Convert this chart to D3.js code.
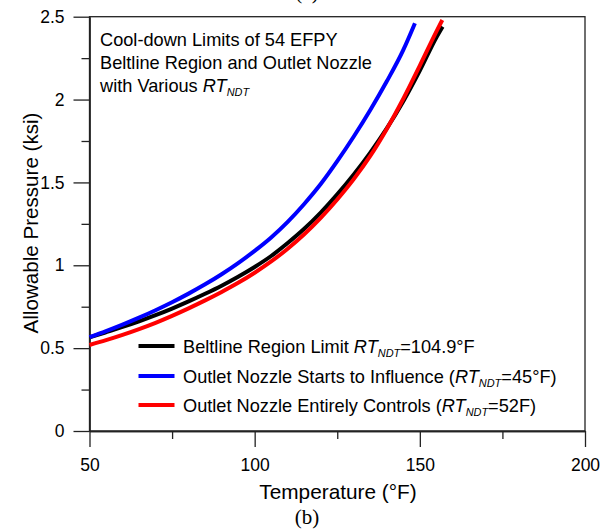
<!DOCTYPE html>
<html>
<head>
<meta charset="utf-8">
<script src="https://cdn.jsdelivr.net/npm/d3@7"></script>
<style>
  body { margin: 0; background: #fff; }
  svg { display: block; }
  text { font-family: "Liberation Sans", Arial, sans-serif; fill: #000; }
  .serif { font-family: "Liberation Serif", "Times New Roman", serif; }
</style>
</head>
<body>
<svg id="chart" width="613" height="529"></svg>
<script>
// Cool-down pressure-temperature limits (ksi vs °F)
const beltlineT = [50, 55, 60, 65, 70, 75, 80, 85, 90, 95, 100, 105, 110, 115, 120, 125, 130, 135, 140, 145, 150, 155, 156.9];
const beltlineP = [0.565, 0.596, 0.628, 0.662, 0.699, 0.739, 0.782, 0.828, 0.877, 0.931, 0.990, 1.056, 1.134, 1.220, 1.318, 1.428, 1.548, 1.680, 1.826, 1.990, 2.175, 2.375, 2.440];

const nozzleStartT = [50, 55, 60, 65, 70, 75, 80, 85, 90, 95, 100, 105, 110, 115, 120, 125, 130, 135, 140, 145, 148.5];
const nozzleStartP = [0.567, 0.603, 0.642, 0.684, 0.729, 0.777, 0.829, 0.885, 0.946, 1.013, 1.087, 1.168, 1.262, 1.370, 1.490, 1.628, 1.777, 1.937, 2.110, 2.300, 2.460];

const nozzleCtrlT = [50, 55, 60, 65, 70, 75, 80, 85, 90, 95, 100, 105, 110, 115, 120, 125, 130, 135, 140, 145, 150, 155, 156.8];
const nozzleCtrlP = [0.519, 0.548, 0.580, 0.615, 0.653, 0.695, 0.740, 0.788, 0.839, 0.894, 0.955, 1.023, 1.100, 1.187, 1.286, 1.397, 1.520, 1.660, 1.823, 2.005, 2.205, 2.410, 2.480];

const xMajorTicks = [50, 100, 150, 200];
const xMinorTicks = [75, 125, 175];
const yMajorTicks = [0, 0.5, 1, 1.5, 2, 2.5];
const yMinorTicks = [0.25, 0.75, 1.25, 1.75, 2.25];
const yTickLabels = ["0", "0.5", "1", "1.5", "2", "2.5"];

const seriesNames = [
  { main: "Beltline Region Limit ", tail: "=104.9°F" },
  { main: "Outlet Nozzle Starts to Influence (", tail: "=45°F)" },
  { main: "Outlet Nozzle Entirely Controls (", tail: "=52F)" }
];
const seriesColors = ["#000000", "#0000ff", "#ff0000"];

const series = [
  beltlineT.map((t, i) => [t, beltlineP[i]]),
  nozzleStartT.map((t, i) => [t, nozzleStartP[i]]),
  nozzleCtrlT.map((t, i) => [t, nozzleCtrlP[i]])
];

const svg = d3.select("#chart");
const plotLeft = 89.5, plotRight = 585, plotTop = 16.7, plotBottom = 431;

const x = d3.scaleLinear().domain([50, 200]).range([plotLeft, plotRight]);
const y = d3.scaleLinear().domain([0, 2.5]).range([plotBottom, plotTop]);

const axisColor = "#222";

// plot frame
svg.append("rect")
  .attr("x", plotLeft).attr("y", plotTop)
  .attr("width", plotRight - plotLeft).attr("height", plotBottom - plotTop)
  .attr("fill", "none").attr("stroke", axisColor).attr("stroke-width", 1.3);

// x axis: major + minor ticks
svg.append("g").attr("transform", `translate(0,${plotBottom})`)
  .call(d3.axisBottom(x).tickValues(xMajorTicks).tickSize(16).tickSizeOuter(0).tickPadding(12).tickFormat(d3.format("d")));
svg.append("g").attr("transform", `translate(0,${plotBottom})`)
  .call(d3.axisBottom(x).tickValues(xMinorTicks).tickSize(8).tickSizeOuter(0).tickFormat(""));

// y axis: major + minor ticks
svg.append("g").attr("transform", `translate(${plotLeft},0)`)
  .call(d3.axisLeft(y).tickValues(yMajorTicks).tickSize(16).tickSizeOuter(0).tickPadding(9)
    .tickFormat((d, i) => yTickLabels[i]));
svg.append("g").attr("transform", `translate(${plotLeft},0)`)
  .call(d3.axisLeft(y).tickValues(yMinorTicks).tickSize(8).tickSizeOuter(0).tickFormat(""));

svg.selectAll(".domain").attr("stroke", axisColor).attr("stroke-width", 1.3);
svg.selectAll(".tick line").attr("stroke", axisColor).attr("stroke-width", 1.3);
svg.selectAll(".tick text").attr("font-size", 17.5).attr("font-family", '"Liberation Sans", Arial, sans-serif').attr("fill", "#000");

// axis titles
svg.append("text").attr("x", 338).attr("y", 499).attr("text-anchor", "middle")
  .attr("font-size", 20.8).text("Temperature (°F)");
svg.append("text").attr("transform", "translate(38,223) rotate(-90)").attr("text-anchor", "middle")
  .attr("font-size", 20.6).text("Allowable Pressure (ksi)");

// panel labels
svg.append("text").attr("class", "serif").attr("x", 307).attr("y", 524).attr("text-anchor", "middle")
  .attr("font-size", 21).text("(b)");
svg.append("text").attr("class", "serif").attr("x", 307).attr("y", -1).attr("text-anchor", "middle")
  .attr("font-size", 21).text("(a)");

// curves
const line = d3.line().x(d => x(d[0])).y(d => y(d[1])).curve(d3.curveMonotoneX);
svg.append("g").selectAll("path").data(series).join("path")
  .attr("d", line)
  .attr("fill", "none")
  .attr("stroke", (d, i) => seriesColors[i])
  .attr("stroke-width", 4);

// italic RT with NDT subscript
function rtText(sel, size) {
  sel.append("tspan").attr("font-style", "italic").text("RT");
  sel.append("tspan").attr("font-style", "italic").attr("font-size", size * 0.6).attr("dy", 4).text("NDT");
}

const fs = 18.2;

// annotation
const note = svg.append("text").attr("font-size", fs);
note.append("tspan").attr("x", 100).attr("y", 46).text("Cool-down Limits of 54 EFPY");
note.append("tspan").attr("x", 100).attr("y", 69).text("Beltline Region and Outlet Nozzle");
const l3 = svg.append("text").attr("font-size", fs).attr("x", 100).attr("y", 92);
l3.append("tspan").text("with Various ");
rtText(l3, fs);

// legend
const legendY = [346, 376, 405];
const lg = svg.append("g");
seriesNames.forEach((s, i) => {
  lg.append("line").attr("x1", 138.5).attr("x2", 174.5)
    .attr("y1", legendY[i]).attr("y2", legendY[i])
    .attr("stroke", seriesColors[i]).attr("stroke-width", 4);
  const t = lg.append("text").attr("x", 183).attr("y", legendY[i] + 6.5).attr("font-size", fs);
  t.append("tspan").text(s.main);
  rtText(t, fs);
  t.append("tspan").attr("dy", -4).text(s.tail);
});
</script>
</body>
</html>
